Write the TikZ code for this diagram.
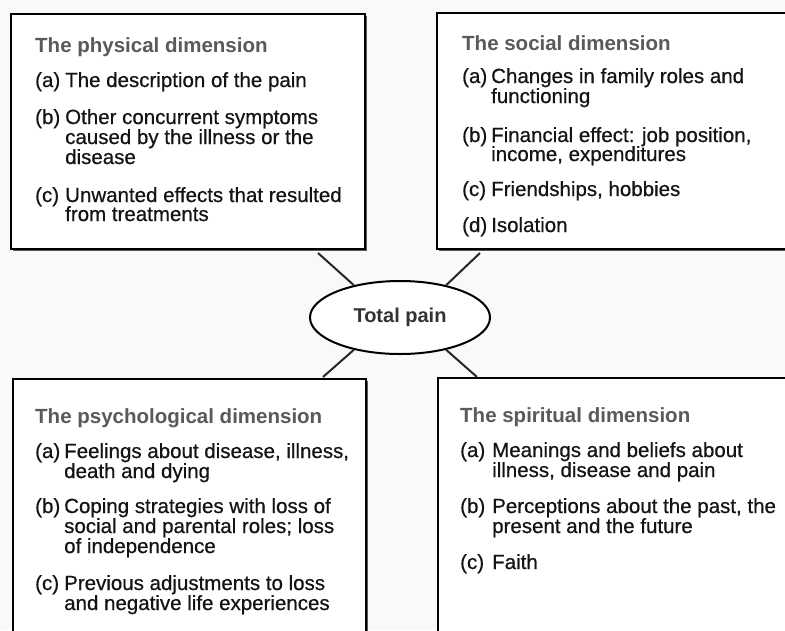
\documentclass[tikz,border=0pt]{standalone}
\usepackage{fontspec}
\setmainfont{Liberation Sans}
\newfontfamily\itmfont[FakeBold=0.6]{Liberation Sans}
\usetikzlibrary{shapes.geometric,shadows}
\definecolor{ttlgray}{HTML}{5A5A5A}
\definecolor{txtblack}{HTML}{141414}
\definecolor{bgcol}{HTML}{F9F9F9}
\tikzset{
  dimbox/.style={draw=black, line width=2pt, fill=white, anchor=north west, inner sep=0pt,
    drop shadow={shadow xshift=1.5pt, shadow yshift=-1.5pt, fill=black!65, opacity=1}},
  ttl/.style={anchor=base west, inner sep=0pt, text=ttlgray, font=\bfseries\fontsize{20.5}{20}\selectfont},
  itm/.style={anchor=base west, inner sep=0pt, text=txtblack, font=\itmfont\fontsize{20.5}{20}\selectfont},
  conn/.style={draw=black!85, line width=2pt},
  hub/.style={ellipse, draw=black, line width=2pt, fill=white, minimum width=180pt, minimum height=73pt,
    inner sep=0pt, text=black!80, font=\bfseries\fontsize{20}{20}\selectfont}
}
\begin{document}
\begin{tikzpicture}[x=1pt,y=-1pt]
\useasboundingbox (0,0) rectangle (785,630);
\clip (0,0) rectangle (785,630);
\fill[bgcol] (0,0) rectangle (785,630);

% boxes
\node[dimbox, minimum width=354pt, minimum height=235pt] (tl) at (10,13) {};
\node[dimbox, minimum width=360pt, minimum height=236pt] (tr) at (436,12) {};
\node[dimbox, minimum width=353pt, minimum height=270pt] (bl) at (12,378) {};
\node[dimbox, minimum width=360pt, minimum height=270pt] (br) at (437,377) {};

% hub
\node[hub] (tp) at (400,317.5) {Total pain};

% connectors
\coordinate (c1) at (318,253);
\coordinate (c2) at (480,253);
\coordinate (c3) at (323,377);
\coordinate (c4) at (477,377);
\draw[conn] (c1) -- (tp.145);
\draw[conn] (c2) -- (tp.35);
\draw[conn] (c3) -- (tp.215);
\draw[conn] (c4) -- (tp.325);

% physical
\node[ttl] (tlt) at (35,52) {The physical dimension};
\node[itm] (tla) at (35,87) {(a)};
\node[itm] (tla1) at (65,87) {The description of the pain};
\node[itm] (tlb) at (35,124) {(b)};
\node[itm] (tlb1) at (65,124) {Other concurrent symptoms};
\node[itm] (tlb2) at (65,144) {caused by the illness or the};
\node[itm] (tlb3) at (65,164) {disease};
\node[itm] (tlc) at (35,202) {(c)};
\node[itm] (tlc1) at (65,202) {Unwanted effects that resulted};
\node[itm] (tlc2) at (65,221) {from treatments};

% social
\node[ttl] (trt) at (462,50) {The social dimension};
\node[itm] (tra) at (462,83) {(a)};
\node[itm] (tra1) at (491,83) {Changes in family roles and};
\node[itm] (tra2) at (491,103) {functioning};
\node[itm] (trb) at (462,142) {(b)};
\node[itm] (trb1) at (491,142) {Financial effect: job position,};
\node[itm] (trb2) at (491,161) {income, expenditures};
\node[itm] (trc) at (462,196) {(c)};
\node[itm] (trc1) at (491,196) {Friendships, hobbies};
\node[itm] (trd) at (462,232) {(d)};
\node[itm] (trd1) at (491,232) {Isolation};

% psychological
\node[ttl] (blt) at (35,423) {The psychological dimension};
\node[itm] (bla) at (35,458) {(a)};
\node[itm] (bla1) at (64,458) {Feelings about disease, illness,};
\node[itm] (bla2) at (64,478) {death and dying};
\node[itm] (blb) at (35,513) {(b)};
\node[itm] (blb1) at (64,513) {Coping strategies with loss of};
\node[itm] (blb2) at (64,533) {social and parental roles; loss};
\node[itm] (blb3) at (64,553) {of independence};
\node[itm] (blc) at (35,590) {(c)};
\node[itm] (blc1) at (64,590) {Previous adjustments to loss};
\node[itm] (blc2) at (64,610) {and negative life experiences};

% spiritual
\node[ttl] (brt) at (460,422) {The spiritual dimension};
\node[itm] (bra) at (460,457) {(a)};
\node[itm] (bra1) at (492,457) {Meanings and beliefs about};
\node[itm] (bra2) at (492,477) {illness, disease and pain};
\node[itm] (brb) at (460,513) {(b)};
\node[itm] (brb1) at (492,513) {Perceptions about the past, the};
\node[itm] (brb2) at (492,533) {present and the future};
\node[itm] (brc) at (460,569) {(c)};
\node[itm] (brc1) at (492,569) {Faith};
\end{tikzpicture}
\end{document}
